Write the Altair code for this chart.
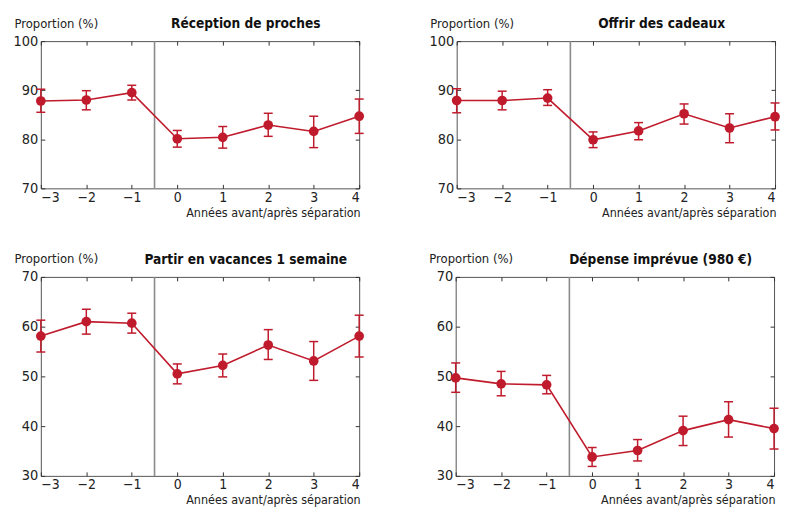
import altair as alt
import pandas as pd

years = [-3, -2, -1, 0, 1, 2, 3, 4]
separation = -0.5

titles = ["Réception de proches", "Offrir des cadeaux",
          "Partir en vacances 1 semaine", "Dépense imprévue (980 €)"]

p1_val = [87.8, 88.0, 89.5, 80.1, 80.4, 82.9, 81.6, 84.7]
p1_lo = [85.5, 86.0, 88.0, 78.4, 78.2, 80.6, 78.3, 81.2]
p1_hi = [90.2, 89.9, 91.0, 81.8, 82.6, 85.3, 84.7, 88.2]

p2_val = [87.9, 87.9, 88.4, 79.9, 81.7, 85.2, 82.3, 84.6]
p2_lo = [85.4, 86.0, 86.9, 78.3, 79.9, 83.1, 79.3, 81.9]
p2_hi = [90.3, 89.8, 90.1, 81.5, 83.4, 87.2, 85.2, 87.4]

p3_val = [58.1, 61.0, 60.7, 50.5, 52.2, 56.3, 53.1, 58.1]
p3_lo = [54.9, 58.5, 58.7, 48.5, 49.9, 53.4, 49.2, 53.9]
p3_hi = [61.3, 63.5, 62.7, 52.5, 54.5, 59.4, 57.0, 62.3]

p4_val = [49.7, 48.5, 48.3, 33.8, 35.1, 39.1, 41.3, 39.5]
p4_lo = [46.8, 46.1, 46.5, 31.9, 33.0, 36.1, 37.8, 35.4]
p4_hi = [52.7, 51.0, 50.2, 35.7, 37.3, 42.0, 44.9, 43.6]

top_domain = [70, 100]
top_ticks = [70, 80, 90, 100]
bottom_domain = [30, 70]
bottom_ticks = [30, 40, 50, 60, 70]

RED = "#c01b2c"
FONT = "DejaVu Sans Condensed, sans-serif"
W = 320


def tick_axis(orient, values):
    return alt.Axis(orient=orient, values=values, labels=False, domain=False,
                    title=None, ticks=True, tickSize=4, offset=-4,
                    tickColor="#333", tickWidth=1, grid=False)


def panel(title, vals, lo, hi, ydom, yticks, h):
    df = pd.DataFrame({"year": years, "val": vals, "lo": lo, "hi": hi})
    xs = alt.Scale(domain=[-3, 4], nice=False, zero=False)
    ys = alt.Scale(domain=ydom, nice=False, zero=False)
    base = alt.Chart(df)

    sep = alt.Chart(pd.DataFrame({"s": [separation]})).mark_rule(
        color="#8a8a8a", strokeWidth=1.6).encode(
        x=alt.X("s:Q", scale=xs, axis=None))

    main_x = alt.Axis(orient="bottom", values=years, ticks=False, domain=False,
                      grid=False, labelFontSize=14, labelPadding=2,
                      labelColor="#222", title="Années avant/après séparation",
                      titleFontSize=12.5, titleFontWeight="normal",
                      titleColor="#222", titleAnchor="end", titleAlign="right",
                      titleX=W + 1, titleY=28, titleBaseline="alphabetic")
    main_y = alt.Axis(orient="left", values=yticks, ticks=False, domain=False,
                      grid=False, labelFontSize=14.5, labelPadding=3,
                      labelColor="#222", title="Proportion (%)",
                      titleFontSize=13, titleFontWeight="normal",
                      titleColor="#222", titleAngle=0, titleAlign="left",
                      titleBaseline="alphabetic", titleX=-27, titleY=-14)

    line = base.mark_line(color=RED, strokeWidth=1.6).encode(
        x=alt.X("year:Q", scale=xs, axis=main_x),
        y=alt.Y("val:Q", scale=ys, axis=main_y))

    bars = base.mark_rule(color=RED, strokeWidth=1.5).encode(
        x=alt.X("year:Q", scale=xs, axis=tick_axis("bottom", years)),
        y=alt.Y("lo:Q", scale=ys, axis=tick_axis("left", yticks)),
        y2="hi:Q")

    cap_lo = base.mark_tick(color=RED, orient="horizontal", size=9,
                            thickness=1.5, opacity=1).encode(
        x=alt.X("year:Q", scale=xs, axis=tick_axis("top", years)),
        y=alt.Y("lo:Q", scale=ys, axis=tick_axis("right", yticks)))

    cap_hi = base.mark_tick(color=RED, orient="horizontal", size=9,
                            thickness=1.5, opacity=1).encode(
        x=alt.X("year:Q", scale=xs, axis=None),
        y=alt.Y("hi:Q", scale=ys, axis=None))

    pts = base.mark_point(color=RED, filled=True, opacity=1, size=95).encode(
        x=alt.X("year:Q", scale=xs, axis=None),
        y=alt.Y("val:Q", scale=ys, axis=None))

    return alt.layer(sep, line, bars, cap_lo, cap_hi, pts).resolve_axis(
        x="independent", y="independent").properties(
        width=W, height=h,
        title=alt.TitleParams(title, fontSize=13.7, fontWeight="bold",
                              anchor="middle", dx=46, offset=-14,
                              color="#111"))


c1 = panel(titles[0], p1_val, p1_lo, p1_hi, top_domain, top_ticks, 148)
c2 = panel(titles[1], p2_val, p2_lo, p2_hi, top_domain, top_ticks, 148)
c3 = panel(titles[2], p3_val, p3_lo, p3_hi, bottom_domain, bottom_ticks, 200)
c4 = panel(titles[3], p4_val, p4_lo, p4_hi, bottom_domain, bottom_ticks, 200)

chart = alt.vconcat(
    alt.hconcat(c1, c2, spacing=63),
    alt.hconcat(c3, c4, spacing=63),
    spacing=33,
).properties(
    padding={"left": 4, "top": 7, "right": 0, "bottom": 0},
    background="white",
).configure(font=FONT).configure_view(stroke="#555", strokeWidth=1)

chart.save("out.html", embed_options={"renderer": "svg", "actions": False})
